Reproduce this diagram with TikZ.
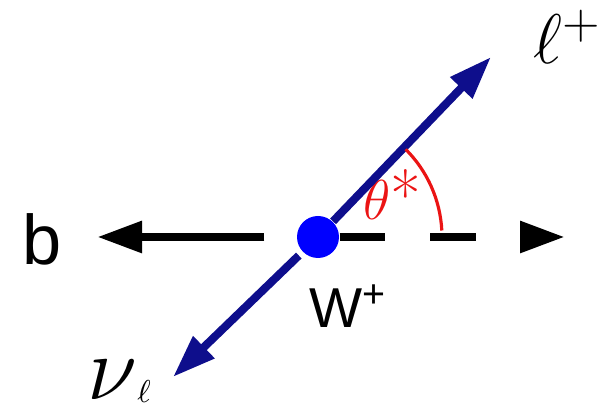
\RequirePackage{fix-cm}
\documentclass[tikz,border=0pt]{standalone}
\usepackage{fontspec}
\setsansfont{Liberation Sans}
\usetikzlibrary{arrows.meta}
\definecolor{wblue}{RGB}{0,0,255}
\definecolor{lblue}{RGB}{14,14,140}
\definecolor{angred}{RGB}{235,20,20}

\begin{document}
\begin{tikzpicture}[
    wdot/.style={
        circle,
        fill=wblue,
        inner sep=0pt,
        minimum size=0.42cm
    },
    axisarrow/.style={
        -{Triangle[length=0.45cm,width=0.30cm]},
        line width=2.5pt,
        black
    },
    dasharrow/.style={
        axisarrow,
        dash pattern=on 13pt off 12.8pt
    },
    leparrow/.style={
        -{Triangle[length=0.43cm,width=0.29cm]},
        line width=2.3pt,
        lblue
    },
    anglearc/.style={
        angred,
        line width=0.9pt
    },
    sflabel/.style={
        font=\sffamily,
        inner sep=0pt,
        anchor=base
    },
    mathlabel/.style={
        inner sep=0pt,
        anchor=base
    }
]
\useasboundingbox (0,0) rectangle (6,4.13);

% Nodes
\node (w) [wdot] at (3.18,1.76) {};
\coordinate (btip) at (0.97,1.76);
\coordinate (dtip) at (5.65,1.76);
\coordinate (ltip) at (4.91,3.56);
\coordinate (ntip) at (1.73,0.36);
\node (b)     [sflabel]   at (0.42,1.48) {\fontsize{20}{22}\selectfont b};
\node (wlab)  [sflabel]   at (3.48,0.85) {\fontsize{16}{18}\selectfont W\textsuperscript{+}};
\node (lep)   [mathlabel] at (5.68,3.49) {\fontsize{20}{22}\selectfont$\ell^{+}$};
\node (nu)    [mathlabel] at (1.19,0.13) {\fontsize{26}{28}\selectfont$\nu$\raisebox{-0.03cm}{\fontsize{9}{10}\selectfont$\ell$}};
\node (theta) [mathlabel, text=angred] at (3.92,1.93) {\fontsize{16}{18}\selectfont$\theta$\fontsize{19}{21}\selectfont*};

% Arrows
\draw[axisarrow, shorten <=0.32cm] (w) -- (btip);
\draw[dasharrow] (w) -- (dtip);
\draw[leparrow] (w) -- (ltip);
\draw[leparrow, shorten <=0.05cm] (w) -- (ntip);
\draw[anglearc] (w.center) ++(3:1.24) arc[start angle=3, end angle=45, radius=1.24];

\end{tikzpicture}
\end{document}
